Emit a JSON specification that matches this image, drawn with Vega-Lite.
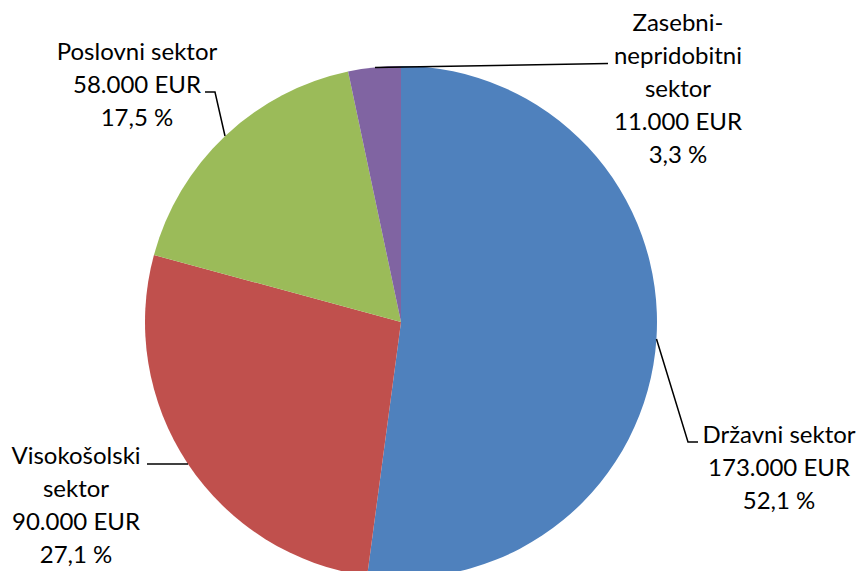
{
  "$schema": "https://vega.github.io/schema/vega-lite/v6.json",
  "width": 802,
  "height": 498,
  "padding": {"left": 0, "top": 73, "right": 59, "bottom": 0},
  "autosize": {"type": "none"},
  "background": "white",
  "config": {"view": {"stroke": null}},
  "datasets": {
    "slices": [
      {"sektor": "Državni sektor", "value": 173000, "order": 1},
      {"sektor": "Visokošolski sektor", "value": 90000, "order": 2},
      {"sektor": "Poslovni sektor", "value": 58000, "order": 3},
      {"sektor": "Zasebni-nepridobitni sektor", "value": 11000, "order": 4}
    ],
    "leaders": [
      {"sektor": "Zasebni", "i": 1, "lx": -0.1016, "ly": 0.9941},
      {"sektor": "Zasebni", "i": 2, "lx": 0.8086, "ly": 1.0098},
      {"sektor": "Poslovni", "i": 1, "lx": -0.6875, "ly": 0.7266},
      {"sektor": "Poslovni", "i": 2, "lx": -0.7266, "ly": 0.8984},
      {"sektor": "Poslovni", "i": 3, "lx": -0.7656, "ly": 0.8984},
      {"sektor": "Visokošolski", "i": 1, "lx": -0.832, "ly": -0.5547},
      {"sektor": "Visokošolski", "i": 2, "lx": -0.9922, "ly": -0.5547},
      {"sektor": "Državni", "i": 1, "lx": 0.998, "ly": -0.0664},
      {"sektor": "Državni", "i": 2, "lx": 1.1211, "ly": -0.4688},
      {"sektor": "Državni", "i": 3, "lx": 1.1602, "ly": -0.4688}
    ],
    "labels": [
      {"label": "Zasebni-|nepridobitni|sektor|11.000 EUR|3,3 %", "tx": 1.082, "ty": 1.1367},
      {"label": "Poslovni sektor|58.000 EUR|17,5 %", "tx": -1.0313, "ty": 1.0234},
      {"label": "Visokošolski|sektor|90.000 EUR|27,1 %", "tx": -1.2695, "ty": -0.5547},
      {"label": "Državni sektor|173.000 EUR|52,1 %", "tx": 1.4766, "ty": -0.4727}
    ]
  },
  "layer": [
    {
      "data": {"name": "slices"},
      "mark": {"type": "arc", "outerRadius": 256},
      "encoding": {
        "theta": {"field": "value", "type": "quantitative", "stack": true},
        "order": {"field": "order", "type": "quantitative"},
        "color": {
          "field": "sektor",
          "type": "nominal",
          "legend": null,
          "scale": {
            "domain": ["Državni sektor", "Visokošolski sektor", "Poslovni sektor", "Zasebni-nepridobitni sektor"],
            "range": ["#4F81BD", "#C0504D", "#9BBB59", "#8064A2"]
          }
        }
      }
    },
    {
      "data": {"name": "leaders"},
      "mark": {"type": "line", "color": "black", "strokeWidth": 1.5, "clip": false},
      "encoding": {
        "x": {"field": "lx", "type": "quantitative", "axis": null, "scale": {"domain": [-1.56641, 1.56641], "nice": false, "zero": false}},
        "y": {"field": "ly", "type": "quantitative", "axis": null, "scale": {"domain": [-0.97266, 0.97266], "nice": false, "zero": false}},
        "detail": {"field": "sektor", "type": "nominal"},
        "order": {"field": "i", "type": "quantitative"}
      }
    },
    {
      "data": {"name": "labels"},
      "mark": {"type": "text", "font": "Lato", "fontSize": 24, "lineHeight": 33, "lineBreak": "|", "align": "center", "baseline": "alphabetic", "color": "black"},
      "encoding": {
        "x": {"field": "tx", "type": "quantitative"},
        "y": {"field": "ty", "type": "quantitative"},
        "text": {"field": "label", "type": "nominal"}
      }
    }
  ]
}
